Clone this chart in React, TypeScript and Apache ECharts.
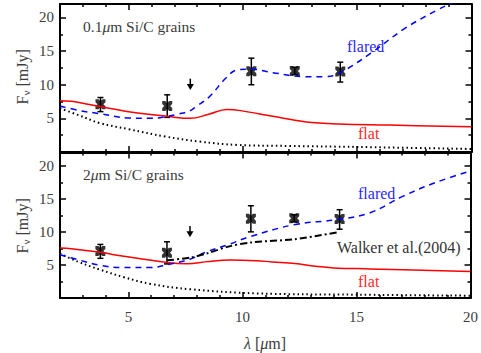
import React, { useEffect, useRef } from 'react';
import * as echarts from 'echarts';

const X_MIN = 2;
const X_MAX = 20;
const Y_MIN = 0;
const Y_MAX = 22;
const xMajor = [5, 10, 15, 20];
const xMinor = [3, 4, 6, 7, 8, 9, 11, 12, 13, 14, 16, 17, 18, 19];
const yMajor = [5, 10, 15, 20];
const yMinor = [2.5, 7.5, 12.5, 17.5];

// observed photometry (same in both panels)
const obsX = [3.77, 6.69, 10.37, 12.27, 14.26];
const obsY = [7.1, 6.85, 12.0, 12.05, 11.95];
const obsLow = [6.0, 5.15, 10.0, 11.5, 10.4];
const obsHigh = [8.1, 8.5, 13.95, 12.6, 13.35];
// upper limit
const limitX = [7.7];
const limitTop = [10.9];
const limitTip = [9.2];

// top panel: 0.1 um grains
const flaredTop = [[2, 6.85], [2.87, 6.15], [3.74, 5.7], [5, 5.05], [6, 5.0], [6.69, 5.3], [7.2, 5.65], [7.7, 6.15], [7.95, 6.75], [8.53, 8.2], [9.26, 11.0], [9.75, 12.2], [10.4, 12.3], [11.3, 11.8], [12.7, 11.2], [13.6, 11.2], [14.26, 11.8], [15.6, 14.7], [17.1, 18.4], [18.5, 21.1], [19.1, 22.1], [20, 23.5]];
const flatTop = [[2, 7.6], [2.5, 7.55], [3.0, 7.25], [3.74, 6.75], [5, 6.0], [6.7, 5.3], [7.7, 5.0], [8.5, 5.6], [9.3, 6.3], [9.9, 6.15], [11.3, 5.3], [12.7, 4.5], [14.2, 4.15], [16.4, 4.0], [20, 3.75]];
const starTop = [[2, 6.5], [2.87, 5.4], [3.74, 4.3], [5, 3.4], [6.6, 2.3], [8.1, 1.55], [9.75, 1.05], [12, 0.9], [15, 0.75], [20, 0.45]];

// bottom panel: 2 um grains
const flaredBot = [[2, 6.55], [2.78, 5.8], [3.77, 4.93], [4.8, 4.6], [5.97, 4.6], [6.7, 5.03], [7.72, 5.9], [8.44, 7.0], [9.4, 8.1], [10.35, 9.3], [12.3, 11.1], [14.26, 11.9], [15.6, 12.9], [17.05, 15.4], [18.5, 17.5], [20, 19.2]];
const flatBot = [[2, 7.57], [2.5, 7.46], [3.77, 6.9], [4.8, 6.3], [6.7, 5.38], [7.57, 5.18], [8.44, 5.5], [9.46, 5.75], [10.6, 5.65], [11.3, 5.45], [12.3, 5.2], [13.2, 4.8], [14, 4.55], [15.6, 4.4], [20, 4.0]];
const starBot = [[2, 6.7], [2.78, 5.5], [3.77, 4.27], [4.8, 3.15], [5.97, 2.13], [7.72, 1.32], [10.6, 0.7], [15, 0.5], [20, 0.35]];
const walker = [[6.7, 5.7], [7.7, 6.1], [8.5, 6.8], [9.4, 7.8], [10.4, 8.4], [12.3, 8.9], [14.26, 10.0]];

const FONT = 'Liberation Serif';
const TXT = '#3c3c3c';
const MARKER = 'path://M0,0L3,0L5,2L7,0L10,0L10,3L8,5L10,7L10,10L7,10L5,8L3,10L0,10L0,7L2,5L0,3Z';

function xAxesFor(grid: number, labels: boolean) {
  const base = { type: 'value', gridIndex: grid, min: X_MIN, max: X_MAX, splitLine: { show: false } };
  const line = { show: true, onZero: false, lineStyle: { color: '#000', width: 2 } };
  const noLine = { show: false, onZero: false };
  const mk = (pos: string, major: boolean, showLine: boolean) => ({
    ...base,
    position: pos,
    axisLine: showLine ? line : noLine,
    axisTick: { show: true, inside: true, length: major ? 6 : 3, customValues: major ? xMajor : xMinor, lineStyle: { color: '#000', width: 1.5 } },
    axisLabel: labels && pos === 'bottom' && major
      ? { show: true, customValues: xMajor, margin: 11, fontFamily: FONT, fontSize: 15, color: TXT }
      : { show: false },
  });
  return [mk('bottom', true, true), mk('bottom', false, false), mk('top', true, true), mk('top', false, false)];
}

function yAxesFor(grid: number) {
  const base = { type: 'value', gridIndex: grid, min: Y_MIN, max: Y_MAX, splitLine: { show: false } };
  const line = { show: true, onZero: false, lineStyle: { color: '#000', width: 2 } };
  const noLine = { show: false, onZero: false };
  const mk = (pos: string, major: boolean, showLine: boolean) => ({
    ...base,
    position: pos,
    axisLine: showLine ? line : noLine,
    axisTick: { show: true, inside: true, length: major ? 6 : 3, customValues: major ? yMajor : yMinor, lineStyle: { color: '#000', width: 1.5 } },
    axisLabel: pos === 'left' && major
      ? { show: true, customValues: yMajor, margin: 6, fontFamily: FONT, fontSize: 15, color: TXT }
      : { show: false },
  });
  return [mk('left', true, true), mk('left', false, false), mk('right', true, true), mk('right', false, false)];
}

function panelSeries(p: number, flared: number[][], flat: number[][], star: number[][], withWalker: boolean) {
  const ax = { xAxisIndex: p * 4, yAxisIndex: p * 4 };
  const s: any[] = [
    { type: 'line', ...ax, data: star, showSymbol: false, smooth: 0.4, lineStyle: { color: '#000', width: 2, type: [1.5, 3] } },
    { type: 'line', ...ax, data: flat, showSymbol: false, smooth: 0.4, lineStyle: { color: '#ff0000', width: 1.5 } },
    { type: 'line', ...ax, data: flared, showSymbol: false, smooth: 0.4, lineStyle: { color: '#0000ff', width: 1.5, type: [6, 5] } },
  ];
  if (withWalker) {
    s.push({ type: 'line', ...ax, data: walker, showSymbol: false, smooth: 0.3, lineStyle: { color: '#000', width: 2, type: [7, 3, 2, 3] } });
  }
  s.push({
    type: 'custom', ...ax,
    data: obsX.map((x, i) => [x, obsLow[i], obsHigh[i]]),
    encode: { x: 0, y: [1, 2] },
    renderItem: (params: any, api: any) => {
      const x = api.value(0);
      const top = api.coord([x, api.value(2)]);
      const bot = api.coord([x, api.value(1)]);
      const w = 3;
      const style = { stroke: '#000', lineWidth: 1.5 };
      return {
        type: 'group',
        children: [
          { type: 'line', shape: { x1: top[0], y1: top[1], x2: bot[0], y2: bot[1] }, style },
          { type: 'line', shape: { x1: top[0] - w, y1: top[1], x2: top[0] + w, y2: top[1] }, style },
          { type: 'line', shape: { x1: bot[0] - w, y1: bot[1], x2: bot[0] + w, y2: bot[1] }, style },
        ],
      };
    },
  });
  s.push({
    type: 'scatter', ...ax,
    data: obsX.map((x, i) => [x, obsY[i]]),
    symbol: MARKER, symbolSize: 10,
    itemStyle: { color: '#000' },
  });
  s.push({
    type: 'custom', ...ax,
    data: limitX.map((x, i) => [x, limitTop[i], limitTip[i]]),
    encode: { x: 0, y: [1, 2] },
    renderItem: (params: any, api: any) => {
      const x = api.value(0);
      const top = api.coord([x, api.value(1)]);
      const tip = api.coord([x, api.value(2)]);
      return {
        type: 'group',
        children: [
          { type: 'line', shape: { x1: top[0], y1: top[1], x2: tip[0], y2: tip[1] - 4 }, style: { stroke: '#000', lineWidth: 1.5 } },
          { type: 'polygon', shape: { points: [[tip[0] - 3.5, tip[1] - 6], [tip[0] + 3.5, tip[1] - 6], [tip[0], tip[1]]] }, style: { fill: '#000' } },
        ],
      };
    },
  });
  return s;
}

const richBase = {
  n: { fontFamily: FONT, fontSize: 15.5, fill: TXT },
  i: { fontFamily: FONT, fontSize: 15.5, fontStyle: 'italic', fill: TXT },
};

function yLabel(cx: number, cy: number) {
  return {
    type: 'group',
    x: cx,
    y: cy,
    rotation: Math.PI / 2,
    children: [
      { type: 'text', x: -27.5, y: 0, style: { text: 'F', fontFamily: FONT, fontSize: 16, fill: TXT, verticalAlign: 'middle' } },
      { type: 'text', x: -18.4, y: 4, style: { text: 'ν', fontFamily: FONT, fontSize: 11, fill: TXT, verticalAlign: 'middle' } },
      { type: 'text', x: -9.5, y: 0, style: { text: '[mJy]', fontFamily: FONT, fontSize: 16, fill: TXT, verticalAlign: 'middle' } },
    ],
  };
}

export default function App() {
  const ref = useRef<HTMLDivElement>(null);
  useEffect(() => {
    if (!ref.current) return;
    const chart = echarts.init(ref.current, null, { renderer: 'svg' });
    chart.setOption({
      animation: false,
      backgroundColor: '#fff',
      grid: [
        { left: 60, top: 4, width: 411.5, height: 148 },
        { left: 60, top: 152.5, width: 411.5, height: 145.5 },
      ],
      xAxis: [...xAxesFor(0, false), ...xAxesFor(1, true)],
      yAxis: [...yAxesFor(0), ...yAxesFor(1)],
      series: [
        ...panelSeries(0, flaredTop, flatTop, starTop, false),
        ...panelSeries(1, flaredBot, flatBot, starBot, true),
      ],
      graphic: [
        { type: 'text', x: 83, y: 26, style: { text: '{n|0.1}{i|μ}{n|m Si/C grains}', rich: richBase, verticalAlign: 'middle' } },
        { type: 'text', x: 83, y: 174, style: { text: '{n|2}{i|μ}{n|m Si/C grains}', rich: richBase, verticalAlign: 'middle' } },
        { type: 'text', x: 347, y: 46, style: { text: 'flared', fontFamily: FONT, fontSize: 16, fill: '#2a2aff', verticalAlign: 'middle' } },
        { type: 'text', x: 358, y: 133, style: { text: 'flat', fontFamily: FONT, fontSize: 16, fill: '#ff2a2a', verticalAlign: 'middle' } },
        { type: 'text', x: 358, y: 193, style: { text: 'flared', fontFamily: FONT, fontSize: 16, fill: '#2a2aff', verticalAlign: 'middle' } },
        { type: 'text', x: 337, y: 247, style: { text: 'Walker et al.(2004)', fontFamily: FONT, fontSize: 16, fill: '#333', verticalAlign: 'middle' } },
        { type: 'text', x: 358, y: 281, style: { text: 'flat', fontFamily: FONT, fontSize: 16, fill: '#ff2a2a', verticalAlign: 'middle' } },
        { type: 'text', x: 265, y: 343, style: { text: '{i|λ}{n| [}{i|μ}{n|m]}', rich: { n: { fontFamily: FONT, fontSize: 16, fill: TXT }, i: { fontFamily: FONT, fontSize: 16, fontStyle: 'italic', fill: TXT } }, align: 'center', verticalAlign: 'middle' } },
        yLabel(22, 77),
        yLabel(22, 226),
      ],
    });
    return () => chart.dispose();
  }, []);
  return <div ref={ref} style={{ width: 481, height: 353, position: 'absolute', left: 0, top: 0 }} />;
}
